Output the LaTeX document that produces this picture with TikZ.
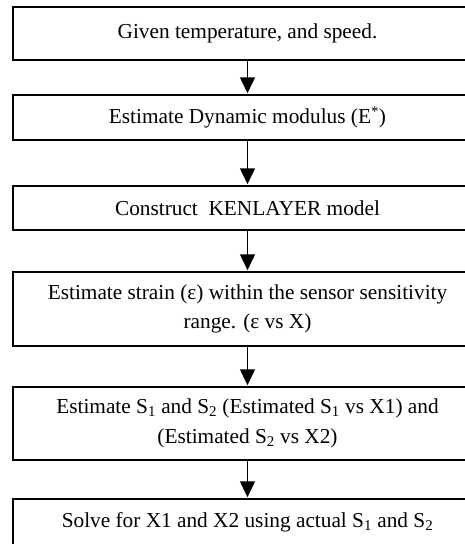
\documentclass[tikz,border=0pt]{standalone}
\usepackage{fontspec}
\setmainfont{Liberation Serif}
\usetikzlibrary{arrows.meta}
\newcommand{\fs}[1]{\fontsize{#1}{29.5}\selectfont}
\begin{document}
\begin{tikzpicture}[x=1pt,y=-1pt,
  flowbox/.style={draw=black,line width=1.5pt,minimum width=469pt,inner sep=0pt,
    align=center,font=\fs{21.3}},
  flowarrow/.style={draw=black,line width=1.5pt,-{Triangle[length=16pt,width=15pt]},shorten >=1pt}]
\useasboundingbox (0,0) rectangle (464,544);
\node[flowbox,minimum height=53pt] (b1) at (247.5,33.5) {Given temperature, and speed.};
\node[flowbox,minimum height=45pt] (b2) at (247.5,117.5) {Estimate Dynamic modulus (E\textsuperscript{*})};
\node[flowbox,minimum height=44pt] (b3) at (247.5,208) {Construct\ \ KENLAYER model};
\node[flowbox,minimum height=74pt] (b4) at (247.5,309) {Estimate strain (ε) within the sensor sensitivity\\range. (ε vs X)};
\node[flowbox,minimum height=73pt] (b5) at (247.5,423.5) {Estimate S\textsubscript{1} and S\textsubscript{2} (Estimated S\textsubscript{1} vs X1) and\\(Estimated S\textsubscript{2} vs X2)};
\node[flowbox,minimum height=47pt] (b6) at (247.5,522.5) {Solve for X1 and X2 using actual S\textsubscript{1} and S\textsubscript{2}};
\draw[flowarrow] (b1) -- (b2);
\draw[flowarrow] (b2) -- (b3);
\draw[flowarrow] (b3) -- (b4);
\draw[flowarrow] (b4) -- (b5);
\draw[flowarrow] (b5) -- (b6);
\end{tikzpicture}
\end{document}
